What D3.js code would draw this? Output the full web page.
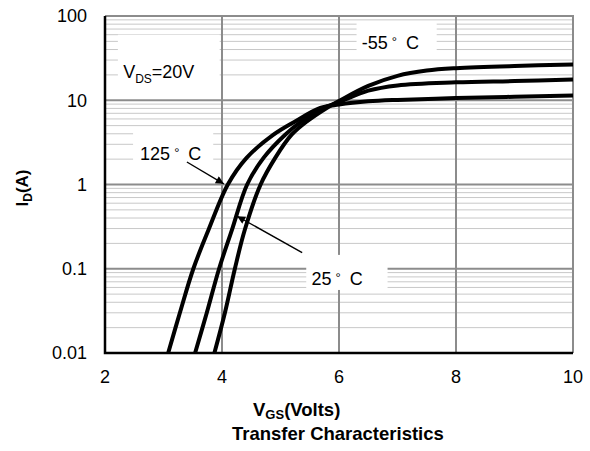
<!DOCTYPE html>
<html>
<head>
<meta charset="utf-8">
<script src="https://cdn.jsdelivr.net/npm/d3@7"></script>
<style>
  body { margin: 0; background: #fff; }
  text { font-family: Arial, "Liberation Sans", sans-serif; fill: #000; }
</style>
</head>
<body>
<div class="chart"></div>
<script>
// transfer curves (VGS in volts, ID in amps)
var vgs125 = [3.08, 3.28, 3.51, 3.77, 4.10, 4.42, 4.88, 5.25, 5.68, 6.0, 6.5, 7.0, 8.0, 9.0, 10.0];
var id125  = [0.01, 0.03, 0.1, 0.29, 1.0, 2.07, 3.9, 5.6, 8.1, 8.9, 9.7, 10.1, 10.6, 11.0, 11.4];

var vgs25 = [3.54, 3.74, 3.95, 4.17, 4.43, 4.71, 5.08, 5.36, 5.73, 6.0, 6.5, 7.0, 8.0, 9.0, 10.0];
var id25  = [0.01, 0.03, 0.1, 0.29, 1.0, 2.07, 3.9, 5.6, 8.1, 9.5, 13.0, 15.0, 16.3, 16.9, 17.6];

var vgsM55 = [3.87, 4.05, 4.22, 4.39, 4.66, 4.91, 5.19, 5.45, 5.79, 6.0, 6.5, 7.0, 7.5, 8.0, 9.0, 10.0];
var idM55  = [0.01, 0.03, 0.1, 0.29, 1.0, 2.07, 3.9, 5.6, 8.1, 9.8, 14.8, 19.5, 22.5, 24.0, 25.5, 26.5];

var xTicks = [2, 4, 6, 8, 10];
var yTicks = [0.01, 0.1, 1, 10, 100];
var yTickLabels = ["0.01", "0.1", "1", "10", "100"];
var seriesNames = ["125", "25", "-55"];

function transferChart() {
  var W = 590, H = 451;
  var margin = {top: 16, right: 17, bottom: 98, left: 105};

  var svg = d3.select(".chart").append("svg")
    .attr("width", W)
    .attr("height", H);

  var x = d3.scaleLinear().domain([2, 10]).range([margin.left, W - margin.right]);
  var y = d3.scaleLog().domain([0.01, 100]).range([H - margin.bottom, margin.top]);

  // minor horizontal grid (2..9 in each decade)
  var minor = [];
  for (var d = 0.01; d < 99; d *= 10) {
    for (var k = 2; k <= 9; k++) minor.push(d * k);
  }
  svg.append("g").selectAll("line").data(minor).enter().append("line")
    .attr("x1", x(2)).attr("x2", x(10))
    .attr("y1", function(v) { return y(v); })
    .attr("y2", function(v) { return y(v); })
    .attr("stroke", "#c8c8c8").attr("stroke-width", 1);

  // major grid
  svg.append("g").selectAll("line").data(yTicks.slice(1, 4)).enter().append("line")
    .attr("x1", x(2)).attr("x2", x(10))
    .attr("y1", function(v) { return y(v); })
    .attr("y2", function(v) { return y(v); })
    .attr("stroke", "#8c8c8c").attr("stroke-width", 2);
  svg.append("g").selectAll("line").data(xTicks.slice(1, 4)).enter().append("line")
    .attr("y1", y(0.01)).attr("y2", y(100))
    .attr("x1", function(v) { return x(v); })
    .attr("x2", function(v) { return x(v); })
    .attr("stroke", "#8c8c8c").attr("stroke-width", 2);

  // top / right frame (gray)
  svg.append("path")
    .attr("d", "M" + x(2) + "," + y(100) + "H" + x(10) + "V" + y(0.01))
    .attr("fill", "none").attr("stroke", "#8c8c8c").attr("stroke-width", 2);

  // white boxes behind the labels
  var boxes = [
    [x(2.22), y(60), x(3.96), y(15.5)],     // VDS
    [x(6.3), y(85), x(7.67), y(35)],        // -55
    [x(2.48), y(4.3), x(3.85), y(1.72)],    // 125
    [x(5.44), y(0.146), x(6.83), y(0.056)]  // 25
  ];
  svg.append("g").selectAll("rect").data(boxes).enter().append("rect")
    .attr("x", function(b) { return b[0]; })
    .attr("y", function(b) { return b[1]; })
    .attr("width", function(b) { return b[2] - b[0]; })
    .attr("height", function(b) { return b[3] - b[1]; })
    .attr("fill", "#fff");

  // curves
  var line = d3.line()
    .x(function(p) { return x(p[0]); })
    .y(function(p) { return y(p[1]); })
    .curve(d3.curveCatmullRom.alpha(0.5));
  var series = [d3.zip(vgs125, id125), d3.zip(vgs25, id25), d3.zip(vgsM55, idM55)];
  svg.append("g").selectAll("path").data(series).enter().append("path")
    .attr("d", line)
    .attr("fill", "none")
    .attr("stroke", "#000")
    .attr("stroke-width", 4)
    .attr("stroke-linejoin", "round");

  // left / bottom axis lines
  svg.append("path")
    .attr("d", "M" + x(2) + "," + y(100) + "V" + y(0.01) + "H" + x(10))
    .attr("fill", "none").attr("stroke", "#000").attr("stroke-width", 2.5);

  // tick labels
  svg.append("g").selectAll("text").data(xTicks).enter().append("text")
    .attr("x", function(v) { return x(v); })
    .attr("y", y(0.01) + 30)
    .attr("text-anchor", "middle")
    .attr("font-size", 18)
    .text(function(v) { return v; });
  svg.append("g").selectAll("text").data(yTicks).enter().append("text")
    .attr("x", x(2) - 18)
    .attr("y", function(v) { return y(v); })
    .attr("dy", "0.36em")
    .attr("text-anchor", "end")
    .attr("font-size", 18)
    .text(function(v, i) { return yTickLabels[i]; });

  // arrows
  svg.append("defs").append("marker")
    .attr("id", "head")
    .attr("viewBox", "0 0 10 10")
    .attr("refX", 10).attr("refY", 5)
    .attr("markerWidth", 10).attr("markerHeight", 8)
    .attr("markerUnits", "userSpaceOnUse")
    .attr("orient", "auto")
    .append("path").attr("d", "M0,0L10,5L0,10z").attr("fill", "#000");
  var arrows = [
    [x(3.40), y(1.85), x(4.03), y(1.02)],
    [x(5.37), y(0.155), x(4.26), y(0.42)]
  ];
  svg.append("g").selectAll("line").data(arrows).enter().append("line")
    .attr("x1", function(a) { return a[0]; })
    .attr("y1", function(a) { return a[1]; })
    .attr("x2", function(a) { return a[2]; })
    .attr("y2", function(a) { return a[3]; })
    .attr("stroke", "#000").attr("stroke-width", 1.4)
    .attr("marker-end", "url(#head)");

  // series labels: number, raised small degree sign, gap, C
  function tempLabel(px, py, name) {
    var t = svg.append("text").attr("x", px).attr("y", py).attr("font-size", 18);
    t.append("tspan").text(name);
    t.append("tspan").attr("dx", 4).attr("dy", -3).attr("font-size", 13).text("\u00b0");
    t.append("tspan").attr("dx", 9).attr("dy", 3).text("C");
  }
  tempLabel(x(2.6), y(1.95), seriesNames[0]);
  tempLabel(x(5.53), y(0.064), seriesNames[1]);
  tempLabel(x(6.39), y(41), seriesNames[2]);

  var vds = svg.append("text").attr("x", x(2.31)).attr("y", y(18.5)).attr("font-size", 18);
  vds.append("tspan").text("V");
  vds.append("tspan").attr("font-size", 12).attr("dy", 5).text("DS");
  vds.append("tspan").attr("dy", -5).text("=20V");

  // axis titles
  var xt = svg.append("text").attr("x", 253).attr("y", 416)
    .attr("font-size", 18.5).attr("font-weight", "bold");
  xt.append("tspan").text("V");
  xt.append("tspan").attr("font-size", 13).attr("dy", 3).text("GS");
  xt.append("tspan").attr("dy", -3).text("(Volts)");
  svg.append("text").attr("x", 232).attr("y", 440)
    .attr("font-size", 18.5).attr("font-weight", "bold")
    .text("Transfer Characteristics");

  var yt = svg.append("text")
    .attr("transform", "translate(28,188) rotate(-90)")
    .attr("text-anchor", "middle")
    .attr("font-size", 17).attr("font-weight", "bold");
  yt.append("tspan").text("I");
  yt.append("tspan").attr("font-size", 12).attr("dy", 4).text("D");
  yt.append("tspan").attr("dy", -4).text("(A)");
}

transferChart();
</script>
</body>
</html>
